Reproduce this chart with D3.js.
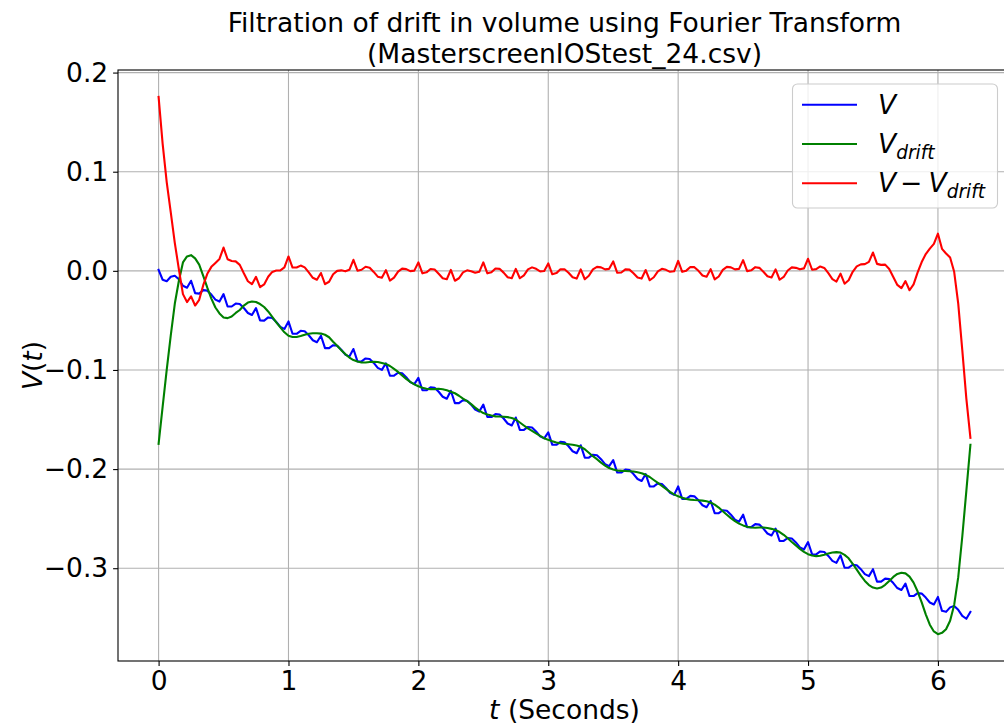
<!DOCTYPE html>
<html>
<head>
<meta charset="utf-8">
<script src="https://cdn.jsdelivr.net/npm/d3@7"></script>
<style>
  body { margin: 0; background: #ffffff; }
  svg { display: block; }
  text { font-family: "DejaVu Sans", sans-serif; fill: #000; }
</style>
</head>
<body>
<svg id="chart" width="1004" height="728"></svg>
<script>
// Sample spacing of the recording, in seconds
const sampleStep = 1 / 32;

// Measured volume V(t)
const volume = [
  0.0010, -0.0090, -0.0105, -0.0060, -0.0050, -0.0085, -0.0150, -0.0170,
  -0.0100, -0.0225, -0.0230, -0.0195, -0.0200, -0.0240, -0.0290, -0.0310,
  -0.0235, -0.0360, -0.0360, -0.0330, -0.0335, -0.0375, -0.0425, -0.0445,
  -0.0376, -0.0500, -0.0502, -0.0470, -0.0476, -0.0516, -0.0566, -0.0586,
  -0.0510, -0.0635, -0.0635, -0.0605, -0.0610, -0.0650, -0.0700, -0.0720,
  -0.0655, -0.0780, -0.0780, -0.0750, -0.0755, -0.0795, -0.0845, -0.0865,
  -0.0789, -0.0914, -0.0914, -0.0884, -0.0889, -0.0929, -0.0979, -0.0999,
  -0.0933, -0.1058, -0.1058, -0.1028, -0.1033, -0.1073, -0.1123, -0.1143,
  -0.1080, -0.1205, -0.1205, -0.1175, -0.1180, -0.1220, -0.1270, -0.1290,
  -0.1210, -0.1335, -0.1335, -0.1305, -0.1310, -0.1350, -0.1400, -0.1420,
  -0.1350, -0.1475, -0.1475, -0.1445, -0.1450, -0.1490, -0.1540, -0.1560,
  -0.1480, -0.1605, -0.1605, -0.1575, -0.1580, -0.1620, -0.1670, -0.1690,
  -0.1630, -0.1755, -0.1755, -0.1725, -0.1730, -0.1770, -0.1820, -0.1840,
  -0.1760, -0.1885, -0.1885, -0.1855, -0.1860, -0.1900, -0.1950, -0.1970,
  -0.1910, -0.2035, -0.2035, -0.2005, -0.2010, -0.2050, -0.2100, -0.2120,
  -0.2050, -0.2175, -0.2175, -0.2145, -0.2150, -0.2190, -0.2240, -0.2260,
  -0.2175, -0.2300, -0.2300, -0.2270, -0.2275, -0.2315, -0.2365, -0.2385,
  -0.2320, -0.2445, -0.2445, -0.2415, -0.2420, -0.2460, -0.2510, -0.2530,
  -0.2460, -0.2585, -0.2585, -0.2555, -0.2560, -0.2600, -0.2650, -0.2670,
  -0.2600, -0.2725, -0.2725, -0.2695, -0.2700, -0.2740, -0.2790, -0.2810,
  -0.2736, -0.2861, -0.2861, -0.2831, -0.2836, -0.2876, -0.2926, -0.2946,
  -0.2870, -0.2995, -0.2995, -0.2965, -0.2970, -0.3010, -0.3060, -0.3080,
  -0.3010, -0.3135, -0.3135, -0.3105, -0.3110, -0.3150, -0.3200, -0.3220,
  -0.3156, -0.3281, -0.3281, -0.3251, -0.3256, -0.3296, -0.3346, -0.3366,
  -0.3290, -0.3430, -0.3440, -0.3395, -0.3380, -0.3420, -0.3480, -0.3510,
  -0.3440
];

// Low-frequency drift V_drift(t) reconstructed from the Fourier spectrum
const volumeDrift = [
  -0.1745, -0.1370, -0.1000, -0.0650, -0.0330, -0.0100, 0.0085, 0.0145,
  0.0158, 0.0125, 0.0062, -0.0050, -0.0170, -0.0280, -0.0370, -0.0430,
  -0.0470, -0.0477, -0.0460, -0.0425, -0.0395, -0.0350, -0.0320, -0.0310,
  -0.0315, -0.0335, -0.0365, -0.0410, -0.0465, -0.0520, -0.0570, -0.0620,
  -0.0655, -0.0668, -0.0668, -0.0658, -0.0645, -0.0635, -0.0630, -0.0630,
  -0.0633, -0.0645, -0.0670, -0.0715, -0.0755, -0.0800, -0.0840, -0.0875,
  -0.0900, -0.0915, -0.0925, -0.0925, -0.0920, -0.0918, -0.0920, -0.0930,
  -0.0940, -0.0960, -0.0990, -0.1020, -0.1055, -0.1090, -0.1120, -0.1145,
  -0.1165, -0.1180, -0.1190, -0.1193, -0.1193, -0.1190, -0.1195, -0.1205,
  -0.1220, -0.1235, -0.1260, -0.1290, -0.1315, -0.1345, -0.1380, -0.1410,
  -0.1435, -0.1450, -0.1460, -0.1468, -0.1470, -0.1472, -0.1476, -0.1485,
  -0.1500, -0.1530, -0.1560, -0.1590, -0.1615, -0.1640, -0.1665, -0.1688,
  -0.1705, -0.1720, -0.1732, -0.1740, -0.1746, -0.1750, -0.1755, -0.1762,
  -0.1775, -0.1800, -0.1835, -0.1870, -0.1900, -0.1935, -0.1965, -0.1990,
  -0.2005, -0.2015, -0.2018, -0.2020, -0.2022, -0.2025, -0.2032, -0.2042,
  -0.2058, -0.2080, -0.2110, -0.2140, -0.2170, -0.2200, -0.2230, -0.2255,
  -0.2275, -0.2290, -0.2302, -0.2308, -0.2312, -0.2315, -0.2318, -0.2325,
  -0.2337, -0.2358, -0.2388, -0.2425, -0.2460, -0.2495, -0.2525, -0.2550,
  -0.2568, -0.2582, -0.2590, -0.2592, -0.2590, -0.2590, -0.2595, -0.2603,
  -0.2615, -0.2635, -0.2663, -0.2698, -0.2735, -0.2770, -0.2805, -0.2835,
  -0.2858, -0.2872, -0.2878, -0.2875, -0.2865, -0.2852, -0.2842, -0.2838,
  -0.2842, -0.2865, -0.2900, -0.2955, -0.3015, -0.3075, -0.3128, -0.3170,
  -0.3195, -0.3205, -0.3195, -0.3168, -0.3128, -0.3088, -0.3058, -0.3045,
  -0.3052, -0.3085, -0.3145, -0.3235, -0.3345, -0.3465, -0.3570, -0.3638,
  -0.3665, -0.3652, -0.3615, -0.3530, -0.3370, -0.3090, -0.2680, -0.2220,
  -0.1755
];

const xTicks = [0, 1, 2, 3, 4, 5, 6];
const yTicks = [-0.3, -0.2, -0.1, 0.0, 0.1, 0.2];
const titleLines = [
  "Filtration of drift in volume using Fourier Transform",
  "(MasterscreenIOStest_24.csv)"
];
const seriesColors = { volume: "#0000ff", drift: "#008000", residual: "#ff0000" };

// Time axis and the drift-free signal V - V_drift
const time = volume.map((_, i) => i * sampleStep);
const residual = volume.map((v, i) => v - volumeDrift[i]);

const svg = d3.select("#chart");
const box = { left: 118, top: 70, right: 1011, bottom: 661 };
const fontSize = 26.5;

// Axis limits with a 5% margin around the data
const tExt = d3.extent(time);
const tPad = 0.05 * (tExt[1] - tExt[0]);
const vExt = d3.extent([...volume, ...volumeDrift, ...residual]);
const vPad = 0.05 * (vExt[1] - vExt[0]);

const x = d3.scaleLinear().domain([tExt[0] - tPad, tExt[1] + tPad]).range([box.left, box.right]);
const y = d3.scaleLinear().domain([vExt[0] - vPad, vExt[1] + vPad]).range([box.bottom, box.top]);

// Grid
const grid = svg.append("g").attr("stroke", "#b0b0b0").attr("stroke-width", 1.1);
grid.selectAll("line.gx").data(xTicks).join("line")
  .attr("x1", d => x(d)).attr("x2", d => x(d))
  .attr("y1", box.top).attr("y2", box.bottom);
grid.selectAll("line.gy").data(yTicks).join("line")
  .attr("x1", box.left).attr("x2", box.right)
  .attr("y1", d => y(d)).attr("y2", d => y(d));

// Data lines, clipped to the axes
svg.append("clipPath").attr("id", "plot-clip").append("rect")
  .attr("x", box.left).attr("y", box.top)
  .attr("width", box.right - box.left).attr("height", box.bottom - box.top);

const plot = svg.append("g").attr("clip-path", "url(#plot-clip)");
const series = [
  { key: "volume", values: volume },
  { key: "drift", values: volumeDrift },
  { key: "residual", values: residual }
];
const line = d3.line().x((d, i) => x(time[i])).y(d => y(d));
plot.selectAll("path.series").data(series).join("path")
  .attr("class", "series")
  .attr("fill", "none")
  .attr("stroke", d => seriesColors[d.key])
  .attr("stroke-width", 2.1)
  .attr("stroke-linejoin", "round")
  .attr("stroke-linecap", "square")
  .attr("d", d => line(d.values));

// Axes
const xAxis = d3.axisBottom(x).tickValues(xTicks).tickFormat(d3.format("d"))
  .tickSizeInner(4.9).tickSizeOuter(0).tickPadding(4.9);
const yAxis = d3.axisLeft(y).tickValues(yTicks).tickFormat(d3.format(".1f"))
  .tickSizeInner(4.9).tickSizeOuter(0).tickPadding(4.9);

const gx = svg.append("g").attr("transform", `translate(0,${box.bottom})`).call(xAxis);
const gy = svg.append("g").attr("transform", `translate(${box.left},0)`).call(yAxis);
[gx, gy].forEach(g => {
  g.select(".domain").remove();
  g.selectAll(".tick line").attr("stroke", "#000").attr("stroke-width", 1.1);
  g.selectAll(".tick text").attr("font-size", fontSize).attr("font-family", "DejaVu Sans").attr("fill", "#000");
});

// Frame
svg.append("rect")
  .attr("x", box.left).attr("y", box.top)
  .attr("width", box.right - box.left).attr("height", box.bottom - box.top)
  .attr("fill", "none").attr("stroke", "#000").attr("stroke-width", 1.1);

// Title
svg.append("g").selectAll("text").data(titleLines).join("text")
  .attr("x", (box.left + box.right) / 2)
  .attr("y", (d, i) => 32 + i * 31)
  .attr("text-anchor", "middle")
  .attr("font-size", fontSize)
  .text(d => d);

// Axis labels
const xl = svg.append("text")
  .attr("x", (box.left + box.right) / 2).attr("y", 719)
  .attr("text-anchor", "middle").attr("font-size", fontSize);
xl.append("tspan").attr("font-style", "italic").text("t");
xl.append("tspan").text(" (Seconds)");

const yl = svg.append("text")
  .attr("transform", `translate(42,${(box.top + box.bottom) / 2}) rotate(-90)`)
  .attr("text-anchor", "middle").attr("font-size", fontSize);
yl.append("tspan").attr("font-style", "italic").text("V");
yl.append("tspan").text("(");
yl.append("tspan").attr("font-style", "italic").text("t");
yl.append("tspan").text(")");

// Legend
const legend = svg.append("g");
legend.append("rect")
  .attr("x", 792.5).attr("y", 84).attr("width", 205).attr("height", 124)
  .attr("rx", 5).attr("fill", "#ffffff").attr("fill-opacity", 0.8)
  .attr("stroke", "#cccccc").attr("stroke-width", 1.1);

const legendRows = [
  { key: "volume", y: 104.7 },
  { key: "drift", y: 144 },
  { key: "residual", y: 183.3 }
];
legend.selectAll("line").data(legendRows).join("line")
  .attr("x1", 802).attr("x2", 857)
  .attr("y1", d => d.y).attr("y2", d => d.y)
  .attr("stroke", d => seriesColors[d.key]).attr("stroke-width", 2.1);

const subSize = fontSize * 0.7;
function addVdrift(sel, xPos) {
  sel.append("tspan").attr("x", xPos).attr("font-style", "italic").text("V");
  sel.append("tspan").attr("font-style", "italic").attr("font-size", subSize)
    .attr("dy", 6).text("drift");
}
const t1 = legend.append("text").attr("font-size", fontSize).attr("y", legendRows[0].y + 9);
t1.append("tspan").attr("x", 878).attr("font-style", "italic").text("V");

const t2 = legend.append("text").attr("font-size", fontSize).attr("y", legendRows[1].y + 9);
addVdrift(t2, 878);

const t3 = legend.append("text").attr("font-size", fontSize).attr("y", legendRows[2].y + 9);
t3.append("tspan").attr("x", 878).attr("font-style", "italic").text("V");
t3.append("tspan").attr("x", 900).text("\u2212");
addVdrift(t3, 928.5);
</script>
</body>
</html>
